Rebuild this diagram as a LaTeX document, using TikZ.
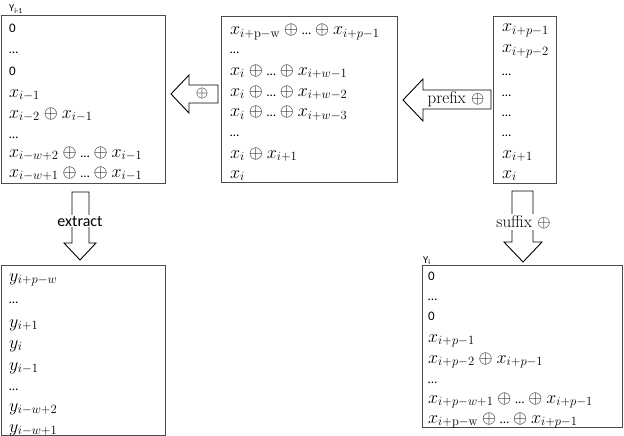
\RequirePackage{fix-cm}
\documentclass[tikz,border=0pt]{standalone}
\usepackage{fontspec}
\setsansfont{Carlito}
\newcommand{\sans}[1]{{\fontsize{13}{15}\selectfont\sffamily #1}}
\newcommand{\dts}{\mathord{\mbox{\sans{\dots}}}}
\tikzset{
  box/.style={draw=black!70,line width=0.9pt},
  row/.style={anchor=base west,inner sep=0pt,font=\fontsize{18}{20}\selectfont},
  blockarrow/.style={draw=black,line width=0.9pt,fill=white,line join=miter},
  tag/.style={anchor=base west,inner sep=0pt,font=\fontsize{10.5}{12}\selectfont\sffamily}
}

\begin{document}
\begin{tikzpicture}[x=1pt,y=-1pt,line cap=butt]
  \path[use as bounding box] (0,0) rectangle (624,436);

  % the five boxes
  \draw[box] (1,15) rectangle (165,183);
  \draw[box] (221,16) rectangle (397,182);
  \draw[box] (493,16) rectangle (556,183);
  \draw[box] (1,265) rectangle (165,435.5);
  \draw[box] (422,265) rectangle (622,427);

  \node[tag] (lprev) at (9,12) {Y\raisebox{-1.5pt}{\fontsize{7.5}{8}\selectfont i-1}};
  \node[tag] (lcur) at (423,263) {Y\raisebox{-1.5pt}{\fontsize{7.5}{8}\selectfont i}};

  % Y_{i-1}
  \foreach \yy/\txt [count=\k] in {
      33/\sans{0}, 54/\sans{\dots}, 75/\sans{0},
      97/$x_{i-1}$,
      118/$x_{i-2}\oplus x_{i-1}$,
      138/\sans{\dots},
      157/$x_{i-w+2}\oplus\dts\oplus x_{i-1}$,
      177/$x_{i-w+1}\oplus\dts\oplus x_{i-1}$}
    \node[row] (a\k) at (9,\yy) {\txt};

  % middle box
  \foreach \yy/\txt [count=\k] in {
      35/$x_{i+\mathrm{p-w}}\oplus\dts\oplus x_{i+p-1}$,
      54/\sans{\dots},
      75/$x_i\oplus\dts\oplus x_{i+w-1}$,
      96/$x_i\oplus\dts\oplus x_{i+w-2}$,
      117/$x_i\oplus\dts\oplus x_{i+w-3}$,
      136/\sans{\dots},
      158/$x_i\oplus x_{i+1}$,
      178/$x_i$}
    \node[row] (b\k) at (230,\yy) {\txt};

  % right box
  \foreach \yy/\txt [count=\k] in {
      32/$x_{i+p-1}$, 53/$x_{i+p-2}$,
      75/\sans{\dots}, 96/\sans{\dots}, 117/\sans{\dots}, 136/\sans{\dots},
      158/$x_{i+1}$, 178/$x_i$}
    \node[row] (c\k) at (502,\yy) {\txt};

  % extracted y
  \foreach \yy/\txt [count=\k] in {
      281/$y_{i+p-w}$, 303/\sans{\dots},
      327/$y_{i+1}$, 348/$y_i$, 370/$y_{i-1}$,
      390/\sans{\dots},
      411/$y_{i-w+2}$, 432/$y_{i-w+1}$}
    \node[row] (d\k) at (9,\yy) {\txt};

  % Y_i
  \foreach \yy/\txt [count=\k] in {
      280/\sans{0}, 300/\sans{\dots}, 320/\sans{0},
      342/$x_{i+p-1}$,
      363/$x_{i+p-2}\oplus x_{i+p-1}$,
      383/\sans{\dots},
      403/$x_{i+p-w+1}\oplus\dts\oplus x_{i+p-1}$,
      423/$x_{i+\mathrm{p-w}}\oplus\dts\oplus x_{i+p-1}$}
    \node[row] (e\k) at (428,\yy) {\txt};

  % block arrows
  \draw[blockarrow] (171,94) -- (189,75) -- (189,85) -- (218,85)
    -- (218,103) -- (189,103) -- (189,113) -- cycle;
  \node[inner sep=0pt,font=\fontsize{16}{18}\selectfont] (xor) at (202,94) {$\oplus$};

  \draw[blockarrow] (403,100) -- (423,79) -- (423,90) -- (491,90)
    -- (491,109) -- (423,109) -- (423,121) -- cycle;
  \node[inner sep=0pt,font=\fontsize{17}{18}\selectfont] (prefix) at (456,99) {prefix $\oplus$};

  \draw[blockarrow] (72,192) -- (89,192) -- (89,243) -- (96,243)
    -- (80,260) -- (64,243) -- (72,243) -- cycle;
  \node[fill=white,inner sep=1pt,font=\fontsize{16}{18}\selectfont\sffamily] (extract) at (80,221) {extract};

  \draw[blockarrow] (512,191) -- (533,191) -- (533,242) -- (542,242)
    -- (523,262) -- (504,242) -- (512,242) -- cycle;
  \node[fill=white,inner sep=1pt,font=\fontsize{17}{18}\selectfont] (suffix) at (523.5,222) {suffix $\oplus$};
\end{tikzpicture}
\end{document}
